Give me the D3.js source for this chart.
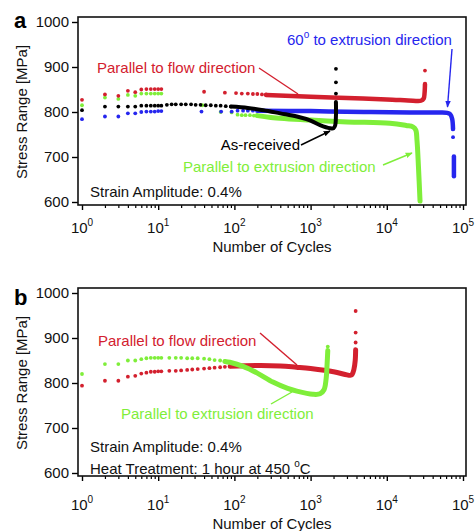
<!DOCTYPE html>
<html>
<head>
<meta charset="utf-8">
<script src="https://cdn.jsdelivr.net/npm/d3@7"></script>
<style>
body { margin: 0; background: #fff; }
text { font-family: "Liberation Sans", Arial, sans-serif; }
</style>
</head>
<body>
<script>
// tick labels
const yTicks = [600, 700, 800, 900, 1000];
const xTickExps = [0, 1, 2, 3, 4, 5];

// ---- panel a (as-received etc.) ----
const aFlowDotN = [1,2,3,4,5,6,7,8,9,10,11,40,75,105,125,150,175,200,230,260];
const aFlowDotS = [827,839,836,847,844,850,851,851,851,851,851,845,843,842,841,841,840,840,839,839];
const aFlowLineN = [260,1000,3000,10000,22000,28000,30500,31300,31700];
const aFlowLineS = [838,834,831,828,825,825,830,842,862];
const aFlowEndN = [31700];
const aFlowEndS = [892];

const aBlueDotN = [1,2,3,4,5,6,7,8,9,10,11,37,67,92,110,130,150,175,200];
const aBlueDotS = [784,790,790,797,797,800,801,801,801,802,802,801,801,801,803,803,803,803,803];
const aBlueLineN = [200,1000,5000,20000,50000,62000,68000,72000,74000];
const aBlueLineS = [803,802,800,799,799,798,795,785,762];
const aBlueEndN = [74000];
const aBlueEndS = [744];
const aBlueTailN = [76000, 76000];
const aBlueTailS = [701, 657];

const aGreenDotN = [1,2,3,4,5,6,7,8,9,10,11,38,66,92,110,125,140,160,180,200];
const aGreenDotS = [815,832,829,838,836,841,841,841,841,841,841,815,800,799,794,793,793,793,792,792];
const aGreenLineN = [200,300,1000,3000,11000,18000,22000,24000,24900,26000,27300];
const aGreenLineS = [792,788,782,778,775,770,767,760,737,680,602];

const aBlackDotN = [1,2,3,4,5,6,7,8,9,10,11,13,15,17,20,23,27,31,36,42,49,57,66,77,90];
const aBlackDotS = [804,812,812,812,812,814,814,814,814,814,814,816,817,817,817,817,817,816,816,815,815,814,814,813,812];
const aBlackLineN = [90,150,240,400,660,1000,1330,1800,2000,2100,2150,2150];
const aBlackLineS = [812,809,804,797,790,781,771,764,764,770,790,822];
const aBlackEndN = [2150,2150,2150];
const aBlackEndS = [841,866,896];

// ---- panel b (heat treated) ----
const bFlowDotN = [1,2,3,4,5,6,7,8,9,10,11,14,17,20,24,28,33,40,47,55,65,75,88];
const bFlowDotS = [794,805,805,814,816,821,823,825,825,826,826,827,827,828,829,830,831,832,833,834,835,836,837];
const bFlowLineN = [88,200,400,650,1000,2000,3000,3300,3500,3700,3850,3900];
const bFlowLineS = [837,839,838,835,832,825,818,817,819,830,850,874];
const bFlowEndN = [3900,3900,3900];
const bFlowEndS = [890,912,960];

const bGreenDotN = [1,2,3,4,5,6,7,8,9,10,11,14,17,20,24,28,33,40,47,55,65,75];
const bGreenDotS = [820,842,842,850,850,853,855,856,856,856,856,856,856,856,855,855,855,854,853,851,850,848];
const bGreenLineN = [75,87,130,200,320,500,660,1070,1330,1500,1600,1650,1680];
const bGreenLineS = [848,846,837,822,802,788,782,775,776,785,810,845,872];
const bGreenEndN = [1680];
const bGreenEndS = [881];

const red = '#d3202e', green = '#7fee3a', blue = '#2626ee', black = '#000';

const svg = d3.select('body').append('svg')
  .attr('width', 475)
  .attr('height', 531);

const defs = svg.append('defs');
[['red', red], ['blue', blue], ['black', black], ['green', green]].forEach(([k, c]) => {
  defs.append('marker').attr('id', 'arr-' + k)
    .attr('viewBox', '0 0 10 10').attr('refX', 9).attr('refY', 5)
    .attr('markerWidth', 5).attr('markerHeight', 5).attr('orient', 'auto')
    .append('path').attr('d', 'M0,1L10,5L0,9z').attr('fill', c);
});

const x = d3.scaleLog().domain([1, 1e5]).range([82, 463]);
const zip = (a, b) => a.map((v, i) => [v, b[i]]);

function drawPanel(off, labOff, series) {
  const y = d3.scaleLinear().domain([600, 1000]).range([202 + off, 22 + off]);
  const g = svg.append('g');

  // y axis
  const ya = g.append('g').attr('transform', 'translate(78,0)')
    .call(d3.axisLeft(y).tickValues(yTicks).tickSize(6).tickPadding(3).tickFormat(d3.format('d')));
  ya.select('.domain').remove();
  ya.selectAll('line').attr('stroke-width', 1.4);
  ya.selectAll('text').attr('font-size', 15).attr('fill', '#111');

  // x axis, major + minor ticks
  const majors = xTickExps.map(e => Math.pow(10, e));
  const minors = [];
  xTickExps.slice(0, -1).forEach(e => { for (let k = 2; k < 10; k++) minors.push(k * Math.pow(10, e)); });
  const xa = g.append('g').attr('transform', `translate(0,${205 + off})`)
    .call(d3.axisBottom(x).tickValues(majors).tickSize(5).tickFormat(''));
  xa.select('.domain').remove();
  xa.selectAll('line').attr('stroke-width', 1.4);
  const xm = g.append('g').attr('transform', `translate(0,${205 + off})`)
    .call(d3.axisBottom(x).tickValues(minors).tickSize(3).tickFormat(''));
  xm.select('.domain').remove();
  xm.selectAll('line').attr('stroke-width', 1.2);

  const xl = g.selectAll('.xlab').data(xTickExps).join('text')
    .attr('x', d => x(Math.pow(10, d)))
    .attr('y', 233 + labOff)
    .attr('text-anchor', 'middle')
    .attr('font-size', 15)
    .attr('fill', '#111');
  xl.append('tspan').text('10');
  xl.append('tspan').attr('font-size', 10).attr('dy', -7).text(d => d);

  // box
  g.append('rect').attr('x', 78).attr('y', 17 + off).attr('width', 388).attr('height', 188)
    .attr('fill', 'none').attr('stroke', '#111').attr('stroke-width', 1.6);

  // titles
  g.append('text').attr('transform', `translate(27,${112 + off}) rotate(-90)`)
    .attr('text-anchor', 'middle').attr('font-size', 15).attr('fill', '#111')
    .text('Stress Range [MPa]');
  g.append('text').attr('x', 272).attr('y', 252 + labOff)
    .attr('text-anchor', 'middle').attr('font-size', 15).attr('fill', '#111')
    .text('Number of Cycles');

  const line = d3.line().x(d => x(d[0])).y(d => y(d[1])).curve(d3.curveCatmullRom);
  series.forEach(s => {
    s.lines.forEach(([ns, ss]) => {
      g.append('path').datum(zip(ns, ss))
        .attr('d', line).attr('fill', 'none').attr('stroke', s.color)
        .attr('stroke-width', s.w).attr('stroke-linecap', 'round').attr('stroke-linejoin', 'round');
    });
    s.dots.forEach(([ns, ss]) => {
      g.append('g').selectAll('circle').data(zip(ns, ss)).join('circle')
        .attr('cx', d => x(d[0])).attr('cy', d => y(d[1])).attr('r', 1.9)
        .attr('fill', s.color);
    });
  });
  return g;
}

const ga = drawPanel(0, 0, [
  {color: green, w: 5, lines: [[aGreenLineN, aGreenLineS]], dots: [[aGreenDotN, aGreenDotS]]},
  {color: red, w: 4.5, lines: [[aFlowLineN, aFlowLineS]], dots: [[aFlowDotN, aFlowDotS], [aFlowEndN, aFlowEndS]]},
  {color: blue, w: 4.5, lines: [[aBlueLineN, aBlueLineS], [aBlueTailN, aBlueTailS]], dots: [[aBlueDotN, aBlueDotS], [aBlueEndN, aBlueEndS]]},
  {color: black, w: 4, lines: [[aBlackLineN, aBlackLineS]], dots: [[aBlackDotN, aBlackDotS], [aBlackEndN, aBlackEndS]]}
]);

const gb = drawPanel(271, 277, [
  {color: red, w: 5, lines: [[bFlowLineN, bFlowLineS]], dots: [[bFlowDotN, bFlowDotS], [bFlowEndN, bFlowEndS]]},
  {color: green, w: 5, lines: [[bGreenLineN, bGreenLineS]], dots: [[bGreenDotN, bGreenDotS], [bGreenEndN, bGreenEndS]]}
]);

// annotations
function label(g, xx, yy, txt, color, anchor) {
  return g.append('text').attr('x', xx).attr('y', yy).attr('font-size', 15)
    .attr('fill', color).attr('text-anchor', anchor || 'start').text(txt);
}
function arrow(g, x1, y1, x2, y2, color, key, head) {
  const l = g.append('line').attr('x1', x1).attr('y1', y1).attr('x2', x2).attr('y2', y2)
    .attr('stroke', color).attr('stroke-width', 1.4);
  if (head) l.attr('marker-end', `url(#arr-${key})`);
}

svg.append('text').attr('x', 14).attr('y', 28).attr('font-size', 22).attr('font-weight', 'bold').text('a');
svg.append('text').attr('x', 14).attr('y', 305).attr('font-size', 22).attr('font-weight', 'bold').text('b');

label(ga, 97, 73, 'Parallel to flow direction', red);
arrow(ga, 259, 68, 298, 94, red, 'red', false);
const t60 = label(ga, 287, 45, '', blue);
t60.append('tspan').text('60');
t60.append('tspan').attr('font-size', 10).attr('dy', -7).text('o');
t60.append('tspan').attr('dy', 7).text(' to extrusion direction');
arrow(ga, 452, 49, 447.5, 107, blue, 'blue', true);
label(ga, 300, 150, 'As-received', black, 'end');
arrow(ga, 301, 145, 330, 131, black, 'black', true);
label(ga, 183, 172, 'Parallel to extrusion direction', green);
arrow(ga, 383, 165, 412, 153, green, 'green', true);
label(ga, 90, 197, 'Strain Amplitude: 0.4%', '#111');

label(gb, 98, 346, 'Parallel to flow direction', red);
arrow(gb, 260, 333, 297, 365, red, 'red', false);
label(gb, 121, 419, 'Parallel to extrusion direction', green);
arrow(gb, 271, 404, 292, 392, green, 'green', false);
label(gb, 90, 452, 'Strain Amplitude: 0.4%', '#111');
const th = label(gb, 90, 474, '', '#111');
th.append('tspan').text('Heat Treatment: 1 hour at 450 ');
th.append('tspan').attr('font-size', 10).attr('dy', -7).text('o');
th.append('tspan').attr('dy', 7).text('C');
</script>
</body>
</html>
